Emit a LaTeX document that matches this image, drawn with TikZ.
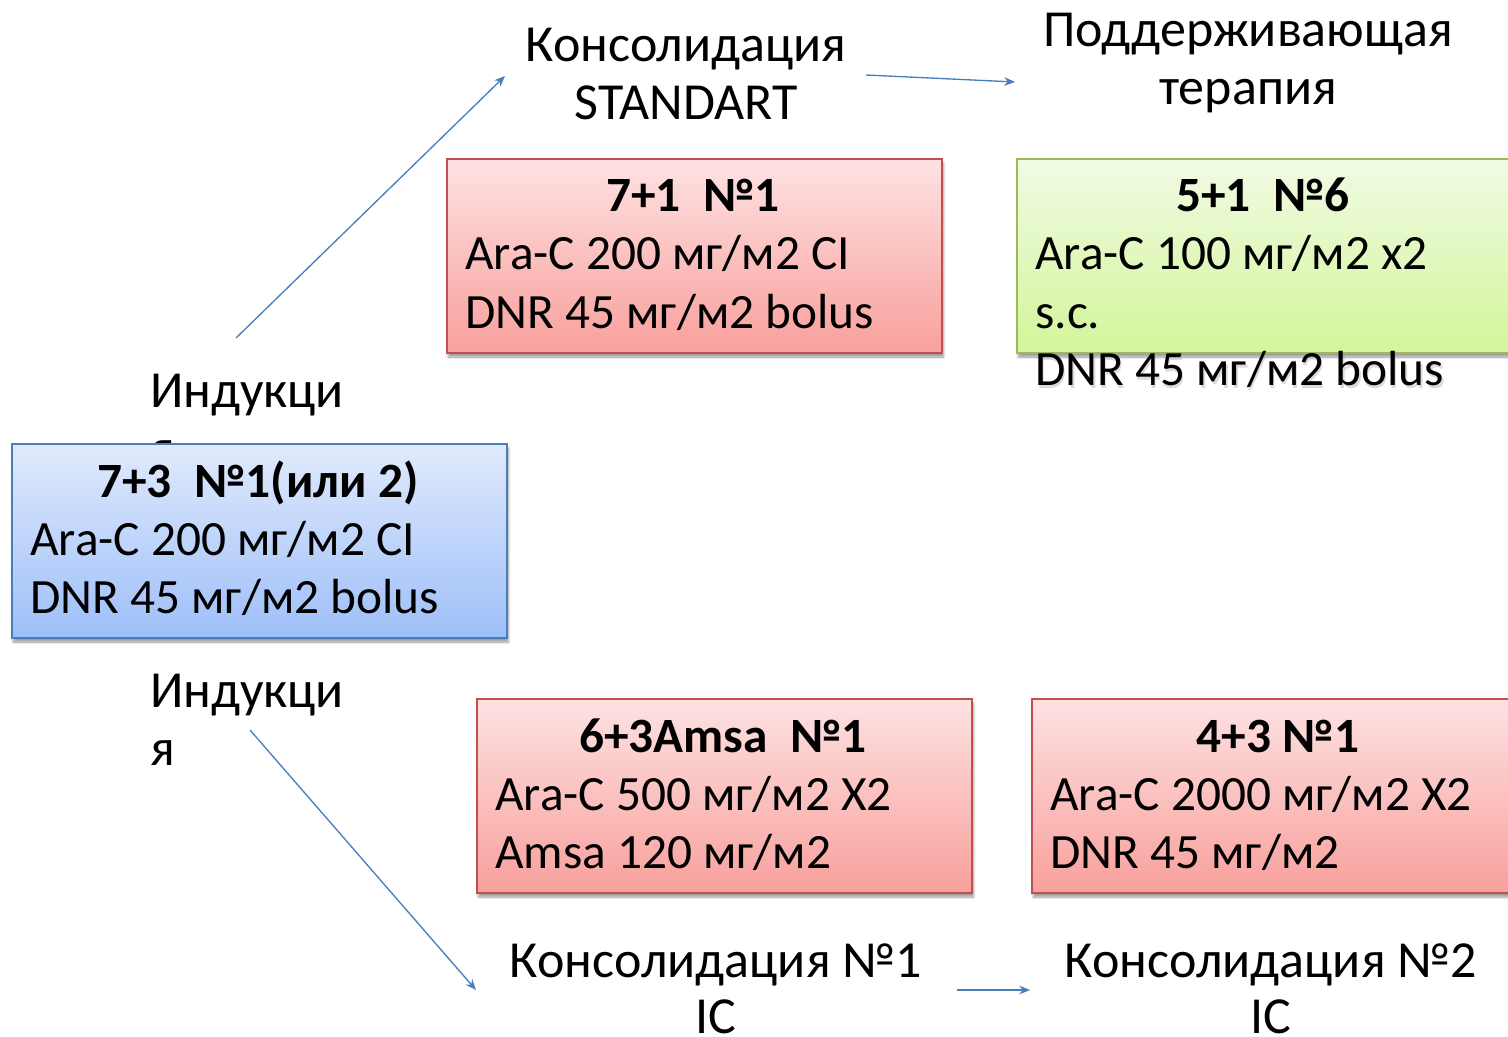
\documentclass[tikz,border=0pt]{standalone}
\usepackage{fontspec}
\setmainfont{Carlito}
\usetikzlibrary{shadows.blur,arrows.meta}
\definecolor{bluetop}{HTML}{E0EAFC}
\definecolor{bluebot}{HTML}{9EBFF9}
\definecolor{blueedge}{HTML}{4A7EBB}
\definecolor{redtop}{HTML}{FDE2E2}
\definecolor{redbot}{HTML}{F8A09C}
\definecolor{rededge}{HTML}{C0504D}
\definecolor{greentop}{HTML}{F1FBE3}
\definecolor{greenbot}{HTML}{D3F59A}
\definecolor{greenedge}{HTML}{9BBB59}
\definecolor{arrowblue}{HTML}{4A7EBB}
\newcommand\labelsize{\fontsize{39pt}{43.5pt}\selectfont}
\newcommand\boxsize{\fontsize{37pt}{43.5pt}\selectfont}
\begin{document}
\begin{tikzpicture}[x=0.75pt,y=-0.75pt,
  box/.style={rectangle, anchor=north west, line width=1.5pt,
    minimum width=371.25pt, minimum height=145.5pt, inner sep=0pt,
    blur shadow={shadow xshift=1pt, shadow yshift=-3pt, shadow blur steps=6, shadow opacity=40}},
  bluebox/.style={box, draw=blueedge, top color=bluetop, bottom color=bluebot},
  redbox/.style={box, draw=rededge, top color=redtop, bottom color=redbot},
  greenbox/.style={box, draw=greenedge, top color=greentop, bottom color=greenbot},
  txt/.style={inner sep=0pt, font=\boxsize, anchor=base west},
  lbl/.style={inner sep=0pt, font=\labelsize, anchor=base west},
  ctxt/.style={inner sep=0pt, font=\labelsize, anchor=base},
  head/.style={inner sep=0pt, font=\boxsize\bfseries, anchor=base},
  link/.style={draw=arrowblue, line width=1pt, -{Stealth[length=8pt,width=6.5pt,inset=2.5pt]}}]
\useasboundingbox (0,0) rectangle (1508,1037);
\clip (0,0) rectangle (1508,1037);

% stage labels
\node[ctxt] (cons) at (686,62) {Консолидация};
\node[ctxt] (std) at (686,120) {STANDART};
\node[ctxt] (maint) at (1248,47) {Поддерживающая};
\node[ctxt] (ther) at (1248,105) {терапия};
\node[lbl] (indA) at (150,407) {Индукци};
\node[lbl] (indAy) at (150,465) {я};
\node[lbl] (indB) at (150,707) {Индукци};
\node[lbl] (indBy) at (150,765) {я};
\node[ctxt] (consA) at (716,977) {Консолидация №1};
\node[ctxt] (icA) at (716,1033) {IC};
\node[ctxt] (consB) at (1271,977) {Консолидация №2};
\node[ctxt] (icB) at (1271,1033) {IC};

% induction box
\node[bluebox] (ind) at (11,443) {};
\node[head] (indH) at (258,497) {7+3\ \ №1(или 2)};
\node[txt] (indL1) at (30,555) {Ara-C 200 мг/м2 CI};
\node[txt] (indL2) at (30,613) {DNR 45 мг/м2 bolus};

% standard consolidation box
\node[redbox] (std1) at (446,158) {};
\node[head] (std1H) at (693,212) {7+1\ \ №1};
\node[txt] (std1L1) at (465,270) {Ara-C 200 мг/м2 CI};
\node[txt] (std1L2) at (465,328) {DNR 45 мг/м2 bolus};

% maintenance box
\node[greenbox] (mt) at (1016,158) {};
\node[head] (mtH) at (1263,212) {5+1\ \ №6};
\node[txt] (mtL1) at (1035,270) {Ara-C 100 мг/м2 x2};
\node[txt] (mtL2) at (1035,328) {s.c.};
\node[txt, text=black!40, opacity=0.35] (mtL3s) at (1036.5,388) {DNR 45 мг/м2 bolus};
\node[txt] (mtL3) at (1035,385) {DNR 45 мг/м2 bolus};

% intensive consolidation boxes
\node[redbox] (ic1) at (476,698) {};
\node[head] (ic1H) at (723,752) {6+3Amsa\ \ №1};
\node[txt] (ic1L1) at (495,810) {Ara-C 500 мг/м2 X2};
\node[txt] (ic1L2) at (495,868) {Amsa 120 мг/м2};

\node[redbox] (ic2) at (1031,698) {};
\node[head] (ic2H) at (1278,752) {4+3 №1};
\node[txt] (ic2L1) at (1050,810) {Ara-C 2000 мг/м2 X2};
\node[txt] (ic2L2) at (1050,868) {DNR 45 мг/м2};

% connector ends
\coordinate (a1s) at (236,338);
\coordinate (a1e) at (505,76);
\coordinate (a2s) at (866,75);
\coordinate (a2e) at (1015,82);
\coordinate (a3s) at (250,730);
\coordinate (a3e) at (476,990);
\coordinate (a4s) at (957,990);
\coordinate (a4e) at (1030,990);

\draw[link] (a1s) -- (a1e);
\draw[link] (a2s) -- (a2e);
\draw[link] (a3s) -- (a3e);
\draw[link] (a4s) -- (a4e);
\end{tikzpicture}
\end{document}
